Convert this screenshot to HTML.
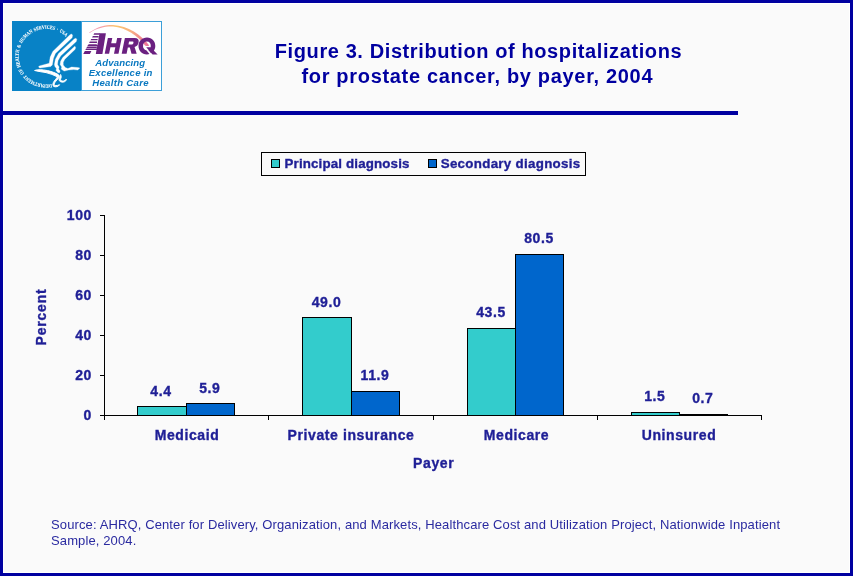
<!DOCTYPE html>
<html>
<head>
<meta charset="utf-8">
<style>
html,body{margin:0;padding:0;}
body{width:853px;height:576px;overflow:hidden;background:#fafafa;font-family:"Liberation Sans",sans-serif;position:relative;}
#frame{position:absolute;left:0;top:0;width:847px;height:570px;border:3px solid #0000a0;box-shadow:inset 0 0 0 1px #ffffff;}
#rule{position:absolute;left:0;top:111px;width:738px;height:4px;background:#0000a0;}
.t{position:absolute;white-space:nowrap;color:#1f1f96;font-weight:bold;font-size:14px;line-height:14px;letter-spacing:0.6px;-webkit-text-stroke:0.35px #1f1f96;}
.lg{font-size:13.33px;letter-spacing:0.3px;}
.c{transform:translateX(-50%);}
#title{position:absolute;left:178.5px;top:39px;width:600px;text-align:center;color:#0000a0;font-weight:bold;font-size:20px;line-height:25px;letter-spacing:0.6px;}
#src{position:absolute;left:51px;top:517px;width:790px;color:#2a2aa0;font-size:13px;line-height:16.2px;letter-spacing:0.12px;white-space:nowrap;}
</style>
</head>
<body><div id="wrap" style="position:absolute;left:0;top:0;width:853px;height:576px;will-change:transform;transform:translateZ(0);">
<div id="frame"></div>
<div id="rule"></div>
<div id="title">Figure 3. Distribution of hospitalizations<br><span style="letter-spacing:0.68px;position:relative;left:-1.2px;">for prostate cancer, by payer, 2004</span></div>

<svg id="chart" width="853" height="576" style="position:absolute;left:0;top:0" shape-rendering="crispEdges">
  <!-- legend -->
  <rect x="261.5" y="152.5" width="324" height="23" fill="#fafafa" stroke="#000" stroke-width="1"/>
  <rect x="271.5" y="159.5" width="8" height="8" fill="#33cccc" stroke="#000"/>
  <rect x="428.5" y="159.5" width="8" height="8" fill="#0066cc" stroke="#000"/>
  <!-- bars -->
  <g stroke="#000" stroke-width="1">
    <rect x="137.5" y="406.5" width="48.5" height="9" fill="#33cccc"/>
    <rect x="186.5" y="403.5" width="48" height="12" fill="#0066cc"/>
    <rect x="302.5" y="317.5" width="48.5" height="98" fill="#33cccc"/>
    <rect x="351.5" y="391.5" width="48" height="24" fill="#0066cc"/>
    <rect x="467.5" y="328.5" width="48" height="87" fill="#33cccc"/>
    <rect x="515.5" y="254.5" width="48" height="161" fill="#0066cc"/>
    <rect x="631.5" y="412.5" width="48" height="3" fill="#33cccc"/>
    <rect x="679.5" y="414.5" width="48" height="1" fill="#0066cc"/>
  </g>
  <!-- axes -->
  <g stroke="#000" stroke-width="1" fill="none">
    <path d="M104.5 215 V415.5 H762"/>
    <path d="M100 215.5 H104 M100 255.5 H104 M100 295.5 H104 M100 335.5 H104 M100 375.5 H104 M100 415.5 H104"/>
    <path d="M104.5 415 V420 M268.5 415 V420 M433.5 415 V420 M597.5 415 V420 M761.5 415 V420"/>
  </g>
</svg>

<div class="t lg" style="left:284.5px;top:156.5px;letter-spacing:0.15px;">Principal diagnosis</div>
<div class="t lg" style="left:440.7px;top:156.5px;">Secondary diagnosis</div>

<div class="t" style="right:761px;top:208px;">100</div>
<div class="t" style="right:761px;top:248px;">80</div>
<div class="t" style="right:761px;top:288px;">60</div>
<div class="t" style="right:761px;top:328px;">40</div>
<div class="t" style="right:761px;top:368px;">20</div>
<div class="t" style="right:761px;top:408px;">0</div>

<div class="t c" style="left:161px;top:384px;">4.4</div>
<div class="t c" style="left:209.8px;top:381px;">5.9</div>
<div class="t c" style="left:326.5px;top:295px;">49.0</div>
<div class="t c" style="left:375px;top:368px;">11.9</div>
<div class="t c" style="left:491px;top:305px;">43.5</div>
<div class="t c" style="left:539px;top:231px;">80.5</div>
<div class="t c" style="left:654.8px;top:389px;">1.5</div>
<div class="t c" style="left:702.8px;top:391px;">0.7</div>

<div class="t c" style="left:187px;top:428px;">Medicaid</div>
<div class="t c" style="left:351px;top:428px;">Private insurance</div>
<div class="t c" style="left:516.5px;top:428px;">Medicare</div>
<div class="t c" style="left:679px;top:428px;">Uninsured</div>
<div class="t c" style="left:433.7px;top:456px;">Payer</div>
<div class="t" style="left:41.3px;top:317px;letter-spacing:0.8px;transform:translate(-50%,-50%) rotate(-90deg);">Percent</div>

<div id="src">Source: AHRQ, Center for Delivery, Organization, and Markets, Healthcare Cost and Utilization Project, Nationwide Inpatient<br>Sample, 2004.</div>

<!-- logo -->
<svg id="logo" width="160" height="80" viewBox="8 16 160 80" style="position:absolute;left:8px;top:16px">
  <defs>
    <linearGradient id="arc" gradientUnits="userSpaceOnUse" x1="89" y1="0" x2="149" y2="0">
      <stop offset="0" stop-color="#f08cb4"/>
      <stop offset="0.22" stop-color="#f5a0a8"/>
      <stop offset="0.45" stop-color="#fbc66e"/>
      <stop offset="0.7" stop-color="#f8b080"/>
      <stop offset="1" stop-color="#ee6c9c"/>
    </linearGradient>
    <path id="circ" d="M 51.57 83.93 A 27.8 27.8 0 1 1 66.5 37.29"/>
  </defs>
  <rect x="12" y="21" width="69" height="70" fill="#0882c6"/>
  <rect x="81.5" y="21.5" width="80" height="69" fill="#fff" stroke="#3c9fd8"/>
  <!-- HHS circular text -->
  <text font-family="Liberation Serif, serif" font-size="5.1" font-weight="bold" fill="#fff" stroke="#fff" stroke-width="0.08" word-spacing="0.8" textLength="113.5" lengthAdjust="spacingAndGlyphs"><textPath href="#circ" startOffset="0" textLength="113.5" lengthAdjust="spacingAndGlyphs">DEPARTMENT OF HEALTH &amp; HUMAN SERVICES · USA</textPath></text>
  <!-- eagle -->
  <g fill="#fff" stroke="#fff" stroke-width="0.3" stroke-linejoin="round">
    <path d="M71.6 33.9 L70.0 34.7 L52.8 51.4 L50.2 57.1 L49.2 63.3 L39.3 65.9 L38.6 66.8 L38.8 67.3 L39.8 68 L50.75 66.5 L52.3 64.9 L53.4 58.6 L55.4 53.4 L72.1 37.8 L72.6 35.2 Z"/>
    <path d="M75.9 38.2 L74.2 38.9 L58.6 53.4 L55.4 59.2 L54.4 64.4 L54.9 66.5 L56.5 68.5 L56 70.6 L58 72.7 L59.6 72.7 L60.1 71.1 L58.6 69.1 L59.1 67 L57.5 64.4 L58 60.7 L60.6 56 L76.3 41.5 L76.8 39.3 Z"/>
    <path d="M74.9 46.3 L73.7 47.2 L62.7 57.6 L60.6 61.25 L60.1 64.4 L61.7 67 L61.2 69.1 L63.25 70.6 L64.3 71.1 L68.5 70.1 L73.7 69.6 L77.8 70.1 L79.9 68 L77.8 67.5 L71.6 67 L67.9 68.5 L65.3 67.5 L63.25 64.9 L63.25 62.3 L64.8 59.2 L75.2 49.3 L75.6 47.3 Z"/>
    <path stroke-width="1" d="M34.6 70.5 C38 69.2 42 69.6 47.6 70.6 C52 71.6 55.5 73 58.3 74.6 C60 76 59.2 77.6 58 78.8 C56.4 80.6 54.6 82.4 54 84.2 C54.4 85.8 56.4 86 59.6 84.7 C58.6 86.6 55.4 87.4 53.6 86.4 C52.4 85 52.8 83 54.3 81 C55.6 79.2 57.2 77.8 57.3 76.8 C54 75 50 73.6 46 72.6 C42 71.8 38.5 71.6 34.6 70.5 Z"/>
    <path stroke-width="0.8" d="M60.6 74.4 C61.6 76 61.4 77.6 60.6 79 C60.2 80.4 61.6 81.2 63.6 80.9 C65 80.5 65.8 79.9 66.4 79 C66.4 80.8 65 82 63 82.2 C60.6 82.4 58.8 81 59 79.2 C59.4 77.6 60 76 60.6 74.4 Z"/>
  </g>
  <!-- AHRQ arc (behind the Q ring) -->
  <path d="M89.2 32.6 C97.5 26.2 107 24.7 113 24.9 C128 25.6 141.5 34.6 149.2 45.5 C147.6 46.5 146 46.2 144.8 45.2 C138 36.2 126 27.6 113 26.6 C106 26.2 98 27.6 89.6 32.9 Z" fill="url(#arc)"/>
  <!-- AHRQ wordmark -->
  <g fill="#6b2080">
    <!-- A -->
    <path d="M99.5 33.3 H105.9 L102.4 53.9 H95.8 Z"/>
    <path d="M94.25 33.3 L100 33.3 L99.7 34.8 L93.45 34.8 Z M92.86 35.9 L98.7 35.9 L98.5 37.4 L92.06 37.4 Z M91.26 38.9 L97.7 38.9 L97.5 40.3 L90.51 40.3 Z M89.82 41.6 L97.1 41.6 L96.9 43.0 L89.07 43.0 Z M88.59 43.9 L96.8 43.9 L96.8 44.7 L88.16 44.7 Z M87.95 45.1 L98 45.1 L97.7 46.6 L87.15 46.6 Z M86.88 47.1 L96.8 47.1 L96.8 47.9 L86.46 47.9 Z M86.14 48.5 L97.2 48.5 L96.9 50.0 L85.33 50.0 Z M84.85 50.9 L91.4 50.9 L89.9 53.9 L83.25 53.9 Z"/>
    <!-- H R in skewed coordinates: x' = x + (53.8-y)*0.2 -->
    <g transform="matrix(1 0 -0.2 1 10.76 0)">
      <path d="M104.7 53.8 V37.9 H109.1 V43.3 H114 V37.9 H118.5 V53.8 H114 V47.2 H109.1 V53.8 Z"/>
      <path d="M121.7 53.8 V37.9 H131.5 Q136.3 37.9 136.3 42.4 Q136.3 45.9 133.2 46.9 L136.7 53.8 H131.5 L128.6 47.6 H126.6 V53.8 Z M126.6 41.6 V44.4 H130.2 Q131.3 44.4 131.3 43 Q131.3 41.6 130.2 41.6 Z" fill-rule="evenodd"/>
    </g>
    <!-- Q ring -->
    <path d="M147 37.6 C152 37.6 155.3 41.2 155.3 46 C155.3 50.8 151.6 54.4 146.8 54.4 C142 54.4 138.5 50.8 138.5 46 C138.5 41.2 142 37.6 147 37.6 Z M147 41.6 C144.6 41.6 143 43.4 143 46 C143 48.6 144.6 50.3 146.9 50.3 C149.2 50.3 150.8 48.6 150.8 46 C150.8 43.4 149.4 41.6 147 41.6 Z" fill-rule="evenodd"/>
  </g>
  <g fill="#6b2080">
    <!-- Q tail -->
    <path d="M144.2 46.2 L151.7 55.4" stroke="#fff" stroke-width="1.7" fill="none"/>
    <path d="M146.2 47.2 H150.6 L157.6 54.6 H152.6 Z"/>
  </g>
  <g font-family="Liberation Sans, sans-serif" font-weight="bold" font-style="italic" font-size="9.6" fill="#0a78c0" text-anchor="middle">
    <text x="120.3" y="66.2" letter-spacing="0.1">Advancing</text>
    <text x="120.7" y="76" letter-spacing="0.25">Excellence in</text>
    <text x="120.5" y="85.6" letter-spacing="0.3">Health Care</text>
  </g>
</svg>
</div></body>
</html>
